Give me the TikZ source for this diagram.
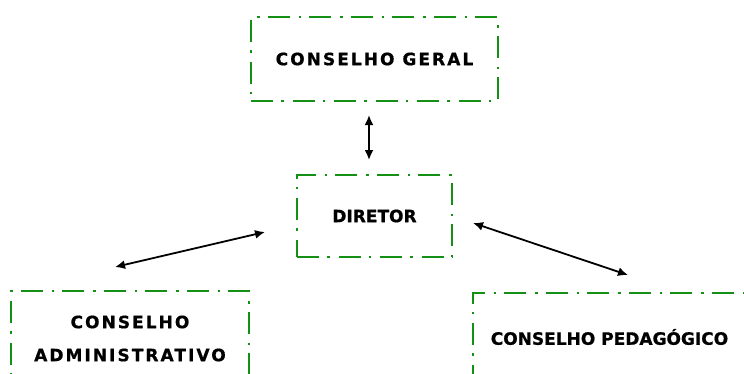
\documentclass[tikz,border=0pt]{standalone}
\usepackage{fontspec}
\setmainfont{DejaVu Sans}
\newfontfamily\spacedbold[LetterSpace=12,FakeBold=0.8]{DejaVu Sans Bold}
\newfontfamily\plainbold[FakeBold=0.8]{DejaVu Sans Bold}
\usetikzlibrary{arrows.meta}
\definecolor{boxgreen}{RGB}{20,145,20}
\tikzset{
  orgbox/.style={draw=boxgreen, line width=2.8pt,
    dash pattern=on 22pt off 8pt on 2.5pt off 9pt,
    inner sep=0pt, align=center, text=black},
  link/.style={line width=1.8pt, {Latex[length=10pt,width=9pt]}-{Latex[length=10pt,width=9pt]}}
}
\begin{document}
\begin{tikzpicture}[x=1pt,y=-1pt]
\useasboundingbox (0,0) rectangle (744,373);
\clip (0,0) rectangle (744,373);
\node[orgbox, minimum width=247pt, minimum height=84pt,
  font=\fontsize{17}{20}\spacedbold] (ger) at (374.5,59) {CONSELHO GERAL};
\node[orgbox, minimum width=155pt, minimum height=82pt,
  font=\fontsize{17}{20}\plainbold] (dir) at (374.5,216) {DIRETOR};
\node[orgbox, minimum width=238pt, minimum height=95pt,
  font=\fontsize{17}{33}\spacedbold] (adm) at (130,338.5) {CONSELHO\\ADMINISTRATIVO};
\node[orgbox, minimum width=273pt, minimum height=88pt,
  font=\fontsize{17}{20}\plainbold] (ped) at (609.5,337) {CONSELHO PEDAGÓGICO};
\coordinate (a1) at (369,115);
\coordinate (a2) at (369,160);
\coordinate (b1) at (265,232);
\coordinate (b2) at (115,267);
\coordinate (c1) at (473,223);
\coordinate (c2) at (628,275);
\draw[link] (a1) -- (a2);
\draw[link] (b1) -- (b2);
\draw[link] (c1) -- (c2);
\end{tikzpicture}
\end{document}
